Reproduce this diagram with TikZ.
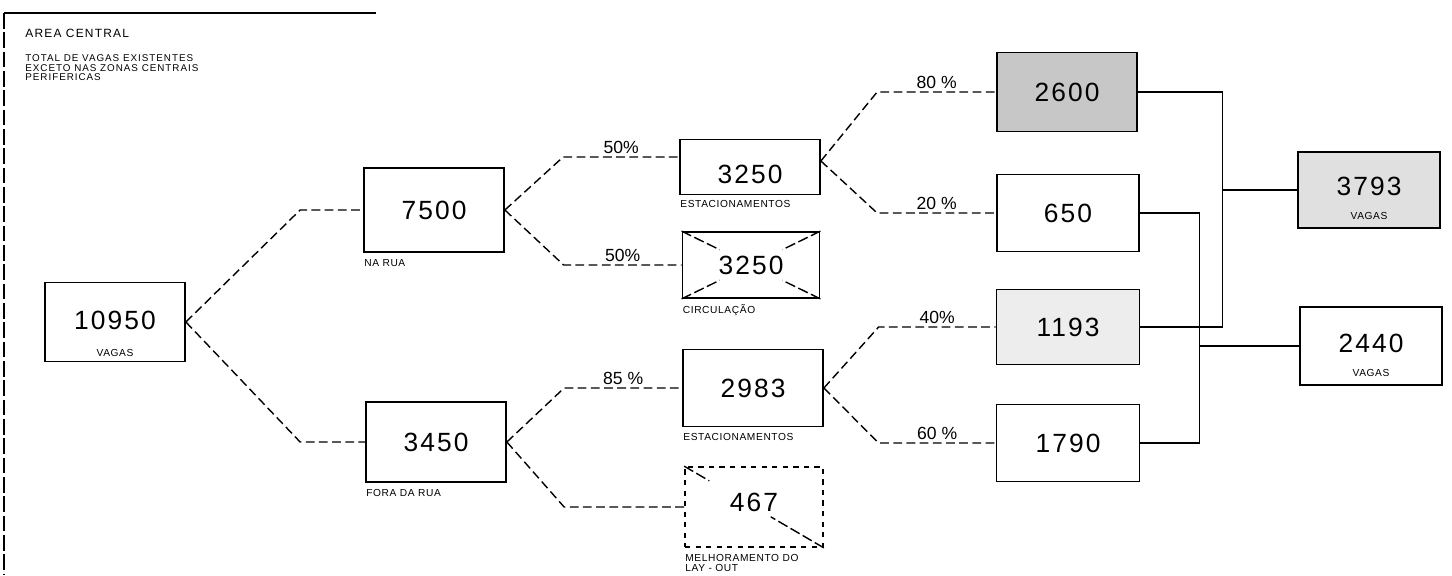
\documentclass[tikz,border=0pt]{standalone}
\usepackage{fontspec}
\setmainfont{Liberation Sans}
\usepackage{tikz}
\usetikzlibrary{positioning, calc}
\tikzstyle{valbox} = [rectangle, draw=black, line width=1pt, minimum width=28mm, minimum height=15.6mm, inner sep=0pt, font=\fontsize{15}{15}\selectfont\addfontfeatures{LetterSpace=8}]
\tikzstyle{graybox} = [valbox, fill=black!22]
\tikzstyle{boxlabel} = [inner sep=0.5pt, align=left, font=\fontsize{5.8}{6}\selectfont\addfontfeatures{LetterSpace=6}]
\tikzstyle{pct} = [inner sep=1.5pt, font=\fontsize{10}{10}\selectfont]
\tikzstyle{link} = [line width=0.8pt, dash pattern=on 5pt off 2.5pt]
\tikzstyle{merge} = [line width=0.8pt]
\tikzstyle{xline} = [line width=0.8pt, dash pattern=on 6pt off 2pt]

\begin{document}
\begin{tikzpicture}[x=0.2mm, y=-0.2mm]
\useasboundingbox (0,0) rectangle (1452,575);

% Frame and heading
\draw[line width=0.8pt] (376,13) -- (4,13);
\draw[line width=0.8pt, dash pattern=on 9pt off 2pt] (4,13) -- (4,575);
\node[anchor=west, inner sep=0pt, font=\fontsize{6.8}{6.8}\selectfont\addfontfeatures{LetterSpace=10}] (title) at (25,33) {AREA CENTRAL};
\node[anchor=north west, inner sep=0pt, align=left, font=\fontsize{5.6}{5.6}\selectfont\addfontfeatures{LetterSpace=10}] (note) at (25,54) {TOTAL DE VAGAS EXISTENTES\\EXCETO NAS ZONAS CENTRAIS\\PERIFERICAS};

% Total
\node[valbox, minimum height=15.8mm] (n10950) at (115,322) {\raisebox{0.4mm}[\height][\depth]{10950}};
\node[boxlabel, above=0.9mm] (l10950) at (n10950.south) {VAGAS};

% Na rua / fora da rua
\node[valbox, minimum height=16.8mm] (n7500) at (434,210) {7500};
\node[boxlabel, below right=1mm and 0mm] (l7500) at (n7500.south west) {NA RUA};
\node[valbox, minimum height=16mm] (n3450) at (436,442) {3450};
\node[boxlabel, below right=1mm and 0mm] (l3450) at (n3450.south west) {FORA DA RUA};

% Estacionamentos, circulacao, lay-out
\node[valbox, minimum height=11mm] (n3250a) at (750,167) {\raisebox{-1.4mm}[\height][\depth]{3250}};
\node[boxlabel, below right=0.8mm and 0mm] (l3250a) at (n3250a.south west) {ESTACIONAMENTOS};
\node[valbox, minimum width=27.4mm, minimum height=13.2mm] (n3250b) at (751,265) {3250};
\node[boxlabel, below right=0.8mm and 0mm] (l3250b) at (n3250b.south west) {CIRCULAÇÃO};
\node[valbox, minimum height=15.4mm] (n2983) at (753,388) {2983};
\node[boxlabel, below right=1mm and 0mm] (l2983) at (n2983.south west) {ESTACIONAMENTOS};
\node[valbox, dashed, minimum width=27.6mm, minimum height=16mm] (n467) at (754,507) {\raisebox{1mm}[\height][\depth]{467}};
\node[boxlabel, below right=1mm and 0mm] (l467) at (n467.south west) {MELHORAMENTO DO\\LAY - OUT};

% Crossed-out and partly struck boxes
\foreach \c in {north west, north east, south west, south east}
  \draw[xline, shorten >=7mm] (n3250b.\c) -- (n3250b.center);
\draw[xline] (n467.south east) -- ($(n467.south east)!0.38!(n467.north west)$);
\draw[xline] (n467.north west) -- ($(n467.north west)!0.18!(n467.south east)$);

% Split of the parking spaces
\node[graybox, minimum height=15.8mm] (n2600) at (1067,92) {2600};
\node[valbox, minimum width=28.4mm, minimum height=15.4mm] (n650) at (1068,213) {650};
\node[valbox, fill=black!7, minimum width=28.6mm, minimum height=15mm] (n1193) at (1068,327) {1193};
\node[valbox, minimum width=28.6mm, minimum height=15.4mm] (n1790) at (1068,443) {1790};

% Results
\node[valbox, fill=black!12, minimum width=28.4mm, minimum height=15.2mm] (n3793) at (1369,190) {\raisebox{0.8mm}[\height][\depth]{3793}};
\node[boxlabel, above=1.6mm] (l3793) at (n3793.south) {VAGAS};
\node[valbox, minimum width=28.4mm, minimum height=15.6mm] (n2440) at (1371,346) {\raisebox{0.5mm}[\height][\depth]{2440}};
\node[boxlabel, above=1.6mm] (l2440) at (n2440.south) {VAGAS};

% Tree branches
\draw[link] (n10950.east) -- ($(n7500.west)+(-63,0)$) -- (n7500.west);
\draw[link] (n10950.east) -- ($(n3450.west)+(-65,0)$) -- (n3450.west);
\draw[link] (n7500.east) -- ($(n3250a.west)+(-116,-10)$) -- node[pct, above] {50\%} ($(n3250a.west)+(0,-10)$);
\draw[link] (n7500.east) -- ($(n3250b.west)+(-118,0)$) -- node[pct, above] {50\%} (n3250b.west);
\draw[link] (n3450.east) -- ($(n2983.west)+(-118,0)$) -- node[pct, above] {85 \%} (n2983.west);
\draw[link] (n3450.east) -- ($(n467.west)+(-120,0)$) -- (n467.west);
\draw[link] ($(n3250a.east)+(0,-6)$) -- ($(n2600.west)+(-119,0)$) -- node[pct, above] {80 \%} (n2600.west);
\draw[link] ($(n3250a.east)+(0,-6)$) -- ($(n650.west)+(-119,0)$) -- node[pct, above] {20 \%} (n650.west);
\draw[link] (n2983.east) -- ($(n1193.west)+(-117,0)$) -- node[pct, above] {40\%} (n1193.west);
\draw[link] (n2983.east) -- ($(n1790.west)+(-117,0)$) -- node[pct, above] {60 \%} (n1790.west);

% Totals
\coordinate (jA) at ($(n1193.east)+(82,0)$);
\coordinate (jB) at ($(n1790.east)+(59,0)$);
\draw[merge] (n2600.east) -| (jA) -- (n1193.east);
\draw[merge] (n3793.west) -- (n3793.west -| jA);
\draw[merge] (n650.east) -| (jB) -- (n1790.east);
\draw[merge] (n2440.west) -- (n2440.west -| jB);
\end{tikzpicture}
\end{document}
